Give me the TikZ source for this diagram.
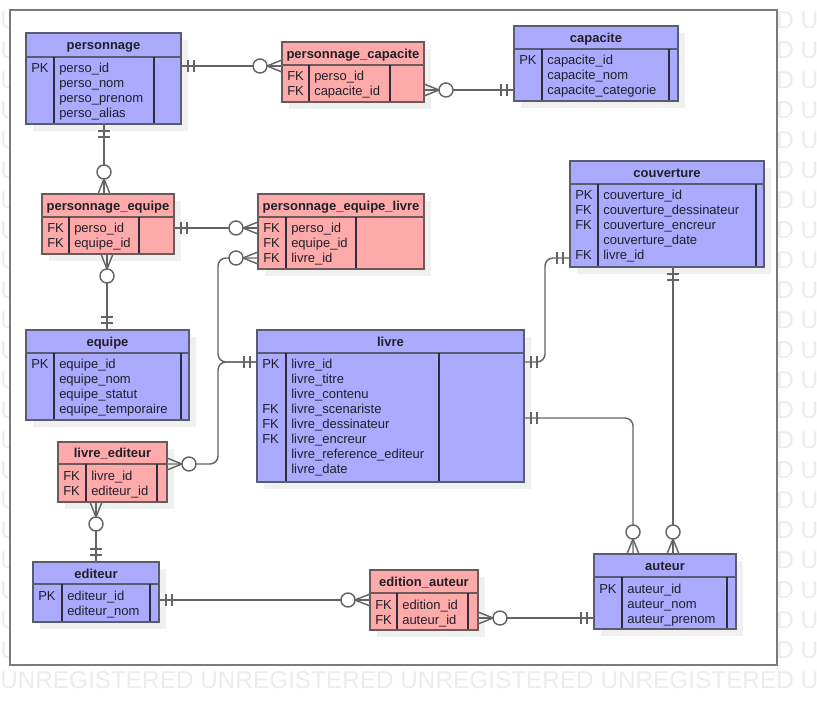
\documentclass[tikz,border=0pt]{standalone}
\usepackage{fontspec}
\setmainfont{Liberation Sans}
\usetikzlibrary{calc}

\definecolor{cBlueFill}{RGB}{170,170,255}
\definecolor{cPinkFill}{RGB}{255,170,170}
\definecolor{cBlueEdge}{RGB}{90,90,112}
\definecolor{cPinkEdge}{RGB}{108,90,90}
\definecolor{cDivider}{RGB}{45,45,60}
\definecolor{cShadow}{RGB}{240,240,240}
\definecolor{cLink}{RGB}{100,100,100}
\definecolor{cFrame}{RGB}{122,122,122}
\definecolor{cStamp}{RGB}{236,236,236}
\definecolor{cText}{RGB}{32,32,40}

\tikzset{
  blueent box/.style={draw=cBlueEdge, fill=cBlueFill, line width=1.3pt, inner sep=0pt, outer sep=0pt},
  pinkent box/.style={draw=cPinkEdge, fill=cPinkFill, line width=1.3pt, inner sep=0pt, outer sep=0pt},
  blueent rule/.style={draw=cBlueEdge, line width=1.3pt},
  pinkent rule/.style={draw=cPinkEdge, line width=1.3pt},
  divrule/.style={draw=cDivider, line width=0.9pt},
  titletext/.style={anchor=base, inner sep=0pt, text=cText, font=\fontsize{9.75pt}{11pt}\selectfont\bfseries},
  celltext/.style={anchor=base west, inner sep=0pt, text=cText, font=\fontsize{9.75pt}{11pt}\selectfont},
  stamptext/.style={anchor=base west, inner sep=0pt, text=cStamp, font=\fontsize{18.25pt}{18.25pt}\selectfont},
  link/.style={draw=cLink, line width=1.1pt},
  linkmark/.style={draw=cLink, line width=1.1pt},
  frameline/.style={draw=cFrame, line width=1.5pt, fill=white}
}

% entity box: name, style, x1, y1, x2, y2, header bottom, key divider, right divider
\newcommand\erEntity[9]{%
  \def\eName{#1}\def\eXa{#3}\def\eXb{#5}\def\eYa{#4}\def\eHb{#7}\def\eDa{#8}%
  \fill[cShadow] ({#3+7},{#4+7}) rectangle ({#5+7},{#6+7});
  \node[#2 box, anchor=north west, minimum width={(#5-#3)*0.75pt}, minimum height={(#6-#4)*0.75pt}] (#1) at (#3,#4) {};
  \draw[#2 rule] (#1.west |- 0,#7) -- (#1.east |- 0,#7);
  \draw[divrule] (#8,#7) -- (#8,{#6-0.8});
  \draw[divrule] (#9,#7) -- (#9,{#6-0.8});
}
\newcommand\erTitle[1]{%
  \node[titletext] (\eName-title) at ({(\eXa+\eXb)/2},{(\eYa+\eHb)/2+5}) {#1};}
\newcommand\erRow[2]{%
  \node[celltext] (\eName-row#1) at ({\eDa+5},{\eHb+16+15*#1}) {#2};}
\newcommand\erKeyRow[3]{%
  \node[celltext] (\eName-key#1) at ({\eXa+5},{\eHb+16+15*#1}) {#2};
  \erRow{#1}{#3}}

% "exactly one" end: point, direction away from the entity
\newcommand\erBars[3]{%
  \draw[linkmark]
    ($(#1)+({7*(#2)-6*(#3)},{7*(#3)+6*(#2)})$) -- ($(#1)+({7*(#2)+6*(#3)},{7*(#3)-6*(#2)})$)
    ($(#1)+({13*(#2)-6*(#3)},{13*(#3)+6*(#2)})$) -- ($(#1)+({13*(#2)+6*(#3)},{13*(#3)-6*(#2)})$);}
% "zero or many" end: point, direction away from the entity
\newcommand\erCrow[3]{%
  \draw[linkmark]
    ($(#1)+({-6*(#3)},{6*(#2)})$) -- ($(#1)+({15*(#2)},{15*(#3)})$) -- ($(#1)+({6*(#3)},{-6*(#2)})$);
  \draw[linkmark, fill=white] ($(#1)+({22*(#2)},{22*(#3)})$) circle[radius=7];}

\begin{document}
\begin{tikzpicture}[x=0.75pt,y=-0.75pt]
\useasboundingbox (0,0) rectangle (817,705);

% stamp lettering showing around the sheet
\begin{scope}
  \clip (0,0) rectangle (817,705);
  \foreach \k in {0,...,21} {
    \node[stamptext] (stampL\k) at (0,{28.8+30*\k}) {U};
    \node[stamptext] (stampR\k) at (776,{28.8+30*\k}) {D U};
  }
  \node[stamptext] (stampB) at (0,{28.8+30*22}) {UNREGISTERED UNREGISTERED UNREGISTERED UNREGISTERED U};
\end{scope}

% sheet
\draw[frameline] (10,10) rectangle (777,665);

% ---------- entities ----------
\erEntity{personnage}{blueent}{26}{33}{181}{124}{57}{54}{154}
\erTitle{personnage}
\erKeyRow{0}{PK}{perso\_id}
\erRow{1}{perso\_nom}
\erRow{2}{perso\_prenom}
\erRow{3}{perso\_alias}

\erEntity{pc}{pinkent}{282}{42}{424}{102}{65}{309}{390}
\erTitle{personnage\_capacite}
\erKeyRow{0}{FK}{perso\_id}
\erKeyRow{1}{FK}{capacite\_id}

\erEntity{capacite}{blueent}{514}{26}{678}{101}{49}{542}{669}
\erTitle{capacite}
\erKeyRow{0}{PK}{capacite\_id}
\erRow{1}{capacite\_nom}
\erRow{2}{capacite\_categorie}

\erEntity{pe}{pinkent}{42}{194}{174}{254}{217}{69}{139}
\erTitle{personnage\_equipe}
\erKeyRow{0}{FK}{perso\_id}
\erKeyRow{1}{FK}{equipe\_id}

\erEntity{pel}{pinkent}{258}{194}{424}{269}{217}{286}{356}
\erTitle{personnage\_equipe\_livre}
\erKeyRow{0}{FK}{perso\_id}
\erKeyRow{1}{FK}{equipe\_id}
\erKeyRow{2}{FK}{livre\_id}

\erEntity{cv}{blueent}{570}{161}{764}{267}{184}{598}{756}
\erTitle{couverture}
\erKeyRow{0}{PK}{couverture\_id}
\erKeyRow{1}{FK}{couverture\_dessinateur}
\erKeyRow{2}{FK}{couverture\_encreur}
\erRow{3}{couverture\_date}
\erKeyRow{4}{FK}{livre\_id}

\erEntity{lv}{blueent}{257}{330}{524}{482}{353}{286}{439}
\erTitle{livre}
\erKeyRow{0}{PK}{livre\_id}
\erRow{1}{livre\_titre}
\erRow{2}{livre\_contenu}
\erKeyRow{3}{FK}{livre\_scenariste}
\erKeyRow{4}{FK}{livre\_dessinateur}
\erKeyRow{5}{FK}{livre\_encreur}
\erRow{6}{livre\_reference\_editeur}
\erRow{7}{livre\_date}

\erEntity{eq}{blueent}{26}{330}{189}{420}{353}{54}{181}
\erTitle{equipe}
\erKeyRow{0}{PK}{equipe\_id}
\erRow{1}{equipe\_nom}
\erRow{2}{equipe\_statut}
\erRow{3}{equipe\_temporaire}

\erEntity{le}{pinkent}{58}{442}{167}{502}{464}{86}{157}
\erTitle{livre\_editeur}
\erKeyRow{0}{FK}{livre\_id}
\erKeyRow{1}{FK}{editeur\_id}

\erEntity{ed}{blueent}{33}{562}{159}{622}{584}{62}{150}
\erTitle{editeur}
\erKeyRow{0}{PK}{editeur\_id}
\erRow{1}{editeur\_nom}

\erEntity{ea}{pinkent}{370}{570}{478}{630}{593}{397}{468}
\erTitle{edition\_auteur}
\erKeyRow{0}{FK}{edition\_id}
\erKeyRow{1}{FK}{auteur\_id}

\erEntity{au}{blueent}{594}{554}{736}{629}{577}{622}{727}
\erTitle{auteur}
\erKeyRow{0}{PK}{auteur\_id}
\erRow{1}{auteur\_nom}
\erRow{2}{auteur\_prenom}

% ---------- connector ends ----------
\coordinate (l1a) at (personnage.east |- 0,66);
\coordinate (l1b) at (pc.west |- 0,66);
\coordinate (l2a) at (pc.east |- 0,90);
\coordinate (l2b) at (capacite.west |- 0,90);
\coordinate (l3a) at (personnage.south -| 104,0);
\coordinate (l3b) at (pe.north -| 104,0);
\coordinate (l4a) at (pe.east |- 0,228);
\coordinate (l4b) at (pel.west |- 0,228);
\coordinate (l5a) at (pe.south -| 107,0);
\coordinate (l5b) at (eq.north -| 107,0);
\coordinate (l6a) at (lv.west |- 0,362);
\coordinate (l6b) at (pel.west |- 0,258);
\coordinate (l6c) at (le.east |- 0,464);
\coordinate (l7a) at (lv.east |- 0,362);
\coordinate (l7b) at (cv.west |- 0,258);
\coordinate (l8a) at (cv.south -| 673,0);
\coordinate (l8b) at (au.north -| 673,0);
\coordinate (l9a) at (lv.east |- 0,418);
\coordinate (l9b) at (au.north -| 633,0);
\coordinate (l10a) at (ed.east |- 0,600);
\coordinate (l10b) at (ea.west |- 0,600);
\coordinate (l11a) at (ea.east |- 0,618);
\coordinate (l11b) at (au.west |- 0,618);
\coordinate (l12a) at (le.south -| 96,0);
\coordinate (l12b) at (ed.north -| 96,0);

% ---------- connectors ----------
\draw[link] (l1a) -- (l1b);
\draw[link] (l2a) -- (l2b);
\draw[link] (l3a) -- (l3b);
\draw[link] (l4a) -- (l4b);
\draw[link] (l5a) -- (l5b);
\draw[link, rounded corners=6pt] (l6a) -- (218,362) -- (218,258) -- (l6b);
\draw[link, rounded corners=6pt] (l6a) -- (218,362) -- (218,464) -- (l6c);
\draw[link, rounded corners=6pt] (l7a) -- (545,362) -- (545,258) -- (l7b);
\draw[link] (l8a) -- (l8b);
\draw[link, rounded corners=6pt] (l9a) -- (633,418) -- (l9b);
\draw[link] (l10a) -- (l10b);
\draw[link] (l11a) -- (l11b);
\draw[link] (l12a) -- (l12b);

% ---------- cardinality marks ----------
\erBars{l1a}{1}{0}   \erCrow{l1b}{-1}{0}
\erCrow{l2a}{1}{0}   \erBars{l2b}{-1}{0}
\erBars{l3a}{0}{1}   \erCrow{l3b}{0}{-1}
\erBars{l4a}{1}{0}   \erCrow{l4b}{-1}{0}
\erCrow{l5a}{0}{1}   \erBars{l5b}{0}{-1}
\erBars{l6a}{-1}{0}  \erCrow{l6b}{-1}{0}  \erCrow{l6c}{1}{0}
\erBars{l7a}{1}{0}   \erBars{l7b}{-1}{0}
\erBars{l8a}{0}{1}   \erCrow{l8b}{0}{-1}
\erBars{l9a}{1}{0}   \erCrow{l9b}{0}{-1}
\erBars{l10a}{1}{0}  \erCrow{l10b}{-1}{0}
\erCrow{l11a}{1}{0}  \erBars{l11b}{-1}{0}
\erCrow{l12a}{0}{1}  \erBars{l12b}{0}{-1}

\end{tikzpicture}
\end{document}
